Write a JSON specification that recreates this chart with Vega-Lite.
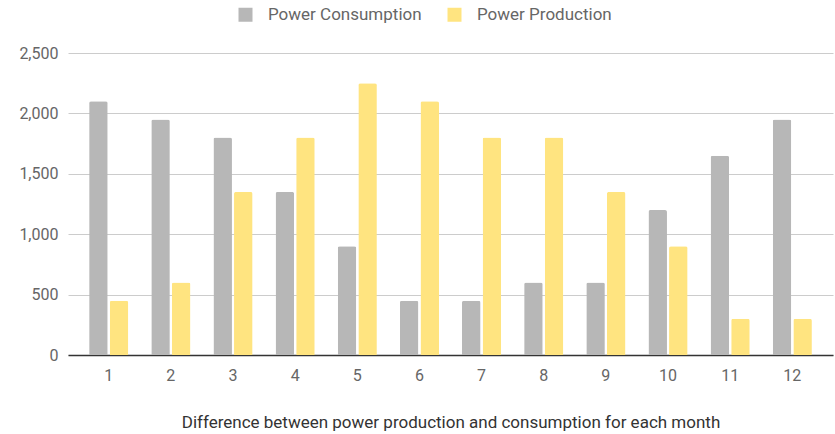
{
  "$schema": "https://vega.github.io/schema/vega-lite/v6.json",
  "autosize": {"type": "none"},
  "width": 765,
  "height": 302,
  "padding": {"left": 68, "top": 53, "right": 2, "bottom": 79},
  "background": "white",
  "config": {
    "font": "Roboto",
    "view": {"stroke": null}
  },
  "data": {
    "values": [
      {"month": 1, "series": "Power Consumption", "value": 2100},
      {"month": 1, "series": "Power Production", "value": 450},
      {"month": 2, "series": "Power Consumption", "value": 1950},
      {"month": 2, "series": "Power Production", "value": 600},
      {"month": 3, "series": "Power Consumption", "value": 1800},
      {"month": 3, "series": "Power Production", "value": 1350},
      {"month": 4, "series": "Power Consumption", "value": 1350},
      {"month": 4, "series": "Power Production", "value": 1800},
      {"month": 5, "series": "Power Consumption", "value": 900},
      {"month": 5, "series": "Power Production", "value": 2250},
      {"month": 6, "series": "Power Consumption", "value": 450},
      {"month": 6, "series": "Power Production", "value": 2100},
      {"month": 7, "series": "Power Consumption", "value": 450},
      {"month": 7, "series": "Power Production", "value": 1800},
      {"month": 8, "series": "Power Consumption", "value": 600},
      {"month": 8, "series": "Power Production", "value": 1800},
      {"month": 9, "series": "Power Consumption", "value": 600},
      {"month": 9, "series": "Power Production", "value": 1350},
      {"month": 10, "series": "Power Consumption", "value": 1200},
      {"month": 10, "series": "Power Production", "value": 900},
      {"month": 11, "series": "Power Consumption", "value": 1650},
      {"month": 11, "series": "Power Production", "value": 300},
      {"month": 12, "series": "Power Consumption", "value": 1950},
      {"month": 12, "series": "Power Production", "value": 300}
    ]
  },
  "mark": {"type": "bar", "cornerRadiusTopLeft": 2, "cornerRadiusTopRight": 2},
  "encoding": {
    "x": {
      "field": "month",
      "type": "ordinal",
      "scale": {"paddingInner": 0.37, "paddingOuter": 0.34},
      "axis": {
        "title": "Difference between power production and consumption for each month",
        "titleFont": "Roboto",
        "titleFontSize": 17,
        "titleFontWeight": "normal",
        "titleColor": "#333333",
        "titlePadding": 31,
        "labelAngle": 0,
        "labelFont": "Roboto",
        "labelFontSize": 16,
        "labelColor": "#666666",
        "labelPadding": 12,
        "ticks": false,
        "domainColor": "#333333",
        "domainWidth": 1.5,
        "grid": false
      }
    },
    "xOffset": {
      "field": "series",
      "type": "nominal",
      "scale": {"paddingInner": 0.1}
    },
    "y": {
      "field": "value",
      "type": "quantitative",
      "scale": {"domain": [0, 2500], "nice": false},
      "axis": {
        "title": null,
        "values": [0, 500, 1000, 1500, 2000, 2500],
        "format": ",.0f",
        "labelFont": "Roboto",
        "labelFontSize": 16,
        "labelColor": "#666666",
        "labelPadding": 10,
        "ticks": false,
        "domain": false,
        "gridColor": "#cccccc",
        "gridWidth": 1
      }
    },
    "color": {
      "field": "series",
      "type": "nominal",
      "scale": {
        "domain": ["Power Consumption", "Power Production"],
        "range": ["#b7b7b7", "#ffe480"]
      },
      "legend": {
        "title": null,
        "orient": "none",
        "direction": "horizontal",
        "columns": 2,
        "legendX": 169,
        "legendY": -47,
        "symbolType": "square",
        "symbolSize": 196,
        "symbolStrokeWidth": 0,
        "labelFont": "Roboto",
        "labelFontSize": 17,
        "labelColor": "#666666",
        "labelOffset": 14,
        "columnPadding": 24
      }
    }
  }
}
